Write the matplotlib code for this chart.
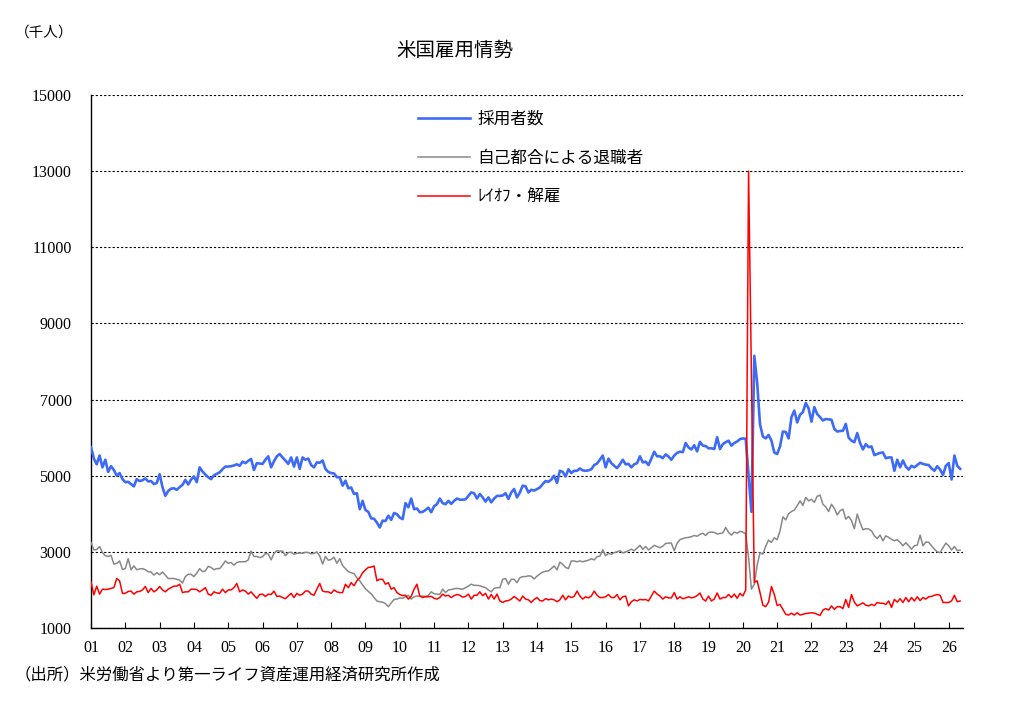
import numpy as np
import matplotlib.pyplot as plt

plt.rcParams['font.family'] = ['Noto Sans CJK JP', 'DejaVu Sans']

# 月次データ（千人） 2001年1月～2026年5月
hires = [
    5750, 5450, 5300, 5530, 5220, 5420, 5100, 5250, 5150, 5000, 5070, 4910,  # 01
    4830, 4840, 4780, 4720, 4910, 4860, 4880, 4930, 4850, 4860, 4780, 4810,  # 02
    5040, 4700, 4470, 4600, 4660, 4670, 4630, 4700, 4760, 4890, 4770, 4900,  # 03
    4980, 4830, 5220, 5110, 5030, 4960, 4910, 5010, 5050, 5090, 5170, 5240,  # 04
    5240, 5250, 5270, 5300, 5260, 5370, 5330, 5390, 5440, 5150, 5330, 5320,  # 05
    5310, 5420, 5510, 5220, 5380, 5510, 5570, 5480, 5400, 5310, 5480, 5240,  # 06
    5480, 5180, 5480, 5420, 5450, 5280, 5220, 5350, 5340, 5400, 5180, 5100,  # 07
    5070, 5060, 4960, 4960, 4740, 4870, 4670, 4690, 4520, 4540, 4120, 4340,  # 08
    4100, 4050, 3880, 3870, 3770, 3640, 3820, 3810, 3950, 3840, 4020, 3990,  # 09
    3900, 3860, 4280, 4170, 4400, 4120, 4140, 4040, 4050, 4100, 4160, 4040,  # 10
    4200, 4250, 4400, 4280, 4250, 4340, 4260, 4340, 4400, 4370, 4370, 4380,  # 11
    4470, 4560, 4540, 4400, 4520, 4430, 4320, 4430, 4300, 4400, 4470, 4470,  # 12
    4480, 4540, 4390, 4560, 4650, 4430, 4560, 4740, 4720, 4560, 4630, 4610,  # 13
    4650, 4690, 4780, 4860, 4840, 4900, 5000, 4810, 5130, 5100, 4980, 5170,  # 14
    5070, 5130, 5130, 5190, 5140, 5130, 5140, 5170, 5280, 5320, 5420, 5530,  # 15
    5220, 5450, 5330, 5260, 5200, 5300, 5420, 5300, 5310, 5220, 5300, 5330,  # 16
    5510, 5350, 5370, 5280, 5450, 5630, 5510, 5510, 5460, 5560, 5500, 5420,  # 17
    5530, 5600, 5630, 5620, 5860, 5740, 5690, 5800, 5640, 5890, 5790, 5780,  # 18
    5720, 5720, 5700, 6010, 5700, 5830, 5880, 5920, 5790, 5860, 5900, 5960,  # 19
    5980, 5970, 5000, 4050, 8150, 7450, 6350, 6030, 5980, 6070, 5920, 5610,  # 20
    5570, 5770, 6160, 6150, 5980, 6540, 6710, 6400, 6600, 6670, 6910, 6770,  # 21
    6420, 6800, 6620, 6540, 6450, 6490, 6480, 6470, 6230, 6160, 6175, 6180,  # 22
    6360, 6000, 5920, 5880, 6120, 5860, 5690, 5830, 5750, 5770, 5540, 5570,  # 23
    5600, 5610, 5460, 5480, 5480, 5130, 5420, 5220, 5400, 5240, 5160, 5260,  # 24
    5220, 5280, 5340, 5310, 5290, 5280, 5190, 5130, 5250, 5160, 5020, 5260,  # 25
    5330, 4900, 5530, 5260, 5180,                                            # 26
]

quits = [
    3250, 3050, 3060, 3140, 2980, 2900, 2880, 2910, 2680, 2700, 2760, 2540,  # 01
    2560, 2820, 2530, 2630, 2530, 2550, 2560, 2530, 2480, 2470, 2390, 2450,  # 02
    2400, 2470, 2390, 2300, 2300, 2300, 2280, 2260, 2180, 2350, 2410, 2410,  # 03
    2350, 2440, 2560, 2480, 2500, 2620, 2590, 2530, 2560, 2560, 2650, 2760,  # 04
    2700, 2720, 2650, 2720, 2740, 2740, 2740, 2790, 3020, 2880, 2880, 2850,  # 05
    2870, 2960, 2940, 2790, 2960, 3030, 3020, 3020, 2900, 2980, 2990, 2940,  # 06
    2960, 2970, 2960, 2990, 2980, 2950, 2960, 3000, 2890, 2680, 2880, 2780,  # 07
    2800, 2860, 2700, 2820, 2640, 2560, 2480, 2450, 2430, 2320, 2240, 2130,  # 08
    2030, 1960, 1900, 1800, 1710, 1690, 1680, 1640, 1560, 1660, 1750, 1760,  # 09
    1790, 1780, 1820, 1860, 1760, 1820, 1840, 1830, 1840, 1830, 1860, 1950,  # 10
    1900, 1890, 1880, 2020, 1930, 2000, 2010, 2030, 2040, 2030, 2020, 2060,  # 11
    2100, 2150, 2120, 2120, 2110, 2080, 2060, 2000, 1950, 2040, 2060, 2060,  # 12
    2280, 2300, 2150, 2280, 2280, 2190, 2320, 2350, 2350, 2370, 2360, 2290,  # 13
    2360, 2420, 2470, 2490, 2500, 2560, 2630, 2530, 2730, 2670, 2590, 2560,  # 14
    2760, 2760, 2740, 2760, 2740, 2760, 2780, 2820, 2790, 2870, 2890, 3050,  # 15
    2900, 2960, 2940, 2980, 3000, 3030, 2970, 3000, 3030, 3070, 3030, 3100,  # 16
    3170, 3070, 3140, 3050, 3110, 3170, 3140, 3110, 3150, 3220, 3230, 3230,  # 17
    3030, 3230, 3320, 3350, 3370, 3380, 3400, 3430, 3410, 3460, 3490, 3430,  # 18
    3510, 3520, 3510, 3470, 3480, 3500, 3640, 3510, 3440, 3520, 3490, 3540,  # 19
    3520, 3470, 2850, 2020, 2150, 2650, 2980, 2940, 3150, 3310, 3250, 3370,  # 20
    3320, 3550, 3920, 3840, 4000, 4060, 4100, 4210, 4340, 4220, 4430, 4340,  # 21
    4380, 4300, 4460, 4490, 4250, 4180, 4060, 4250, 4140, 3970, 4080, 4120,  # 22
    3860, 3930, 3820, 3610, 3990, 3770, 3580, 3610, 3600, 3550, 3420, 3350,  # 23
    3440, 3290, 3420, 3380, 3330, 3290, 3320, 3250, 3160, 3240, 3160, 3070,  # 24
    3160, 3175, 3440, 3160, 3260, 3250, 3160, 3070, 3000, 2980, 3110, 3230,  # 25
    3160, 3050, 3140, 3030, 3050,                                            # 26
]

layoffs = [
    2210, 1870, 2100, 1890, 2020, 2010, 2020, 2040, 2060, 2300, 2240, 1910,  # 01
    1910, 1960, 1970, 1890, 1950, 1960, 2000, 2090, 1930, 2040, 1950, 2000,  # 02
    2090, 2000, 1950, 2020, 2060, 2100, 2100, 2150, 1930, 1950, 1950, 2020,  # 03
    2020, 2010, 1950, 2000, 2060, 1890, 1860, 1950, 1920, 1910, 2020, 1930,  # 04
    2000, 2000, 2060, 2170, 1950, 2000, 1970, 1890, 1950, 1860, 1780, 1880,  # 05
    1890, 1830, 1890, 1880, 1970, 1830, 1840, 1800, 1770, 1840, 1910, 1800,  # 06
    1910, 1860, 1890, 1970, 1970, 1890, 1860, 2020, 2170, 1970, 1950, 1950,  # 07
    1910, 2000, 1950, 1930, 1930, 2150, 2060, 2190, 2110, 2240, 2320, 2450,  # 08
    2530, 2590, 2600, 2630, 2240, 2280, 2280, 2150, 2190, 2020, 2060, 1930,  # 09
    1880, 1850, 1860, 1760, 1830, 2020, 2150, 1840, 1800, 1820, 1820, 1830,  # 10
    1780, 1760, 1800, 1890, 1840, 1860, 1800, 1850, 1880, 1860, 1810, 1830,  # 11
    1890, 1760, 1860, 1860, 1950, 1850, 1910, 1760, 1880, 1760, 1890, 1710,  # 12
    1670, 1710, 1720, 1760, 1830, 1770, 1710, 1840, 1760, 1740, 1670, 1750,  # 13
    1800, 1720, 1710, 1770, 1740, 1760, 1740, 1690, 1740, 1860, 1740, 1840,  # 14
    1800, 1830, 1970, 1840, 1760, 1820, 1790, 1840, 1970, 1860, 1800, 1800,  # 15
    1820, 1880, 1800, 1800, 1880, 1740, 1820, 1840, 1580, 1690, 1740, 1710,  # 16
    1750, 1740, 1750, 1710, 1840, 1970, 1890, 1840, 1760, 1820, 1790, 1790,  # 17
    1930, 1760, 1820, 1770, 1790, 1820, 1790, 1810, 1850, 1920, 1760, 1710,  # 18
    1840, 1710, 1760, 1920, 1760, 1800, 1800, 1880, 1800, 1890, 1780, 1910,  # 19
    1840, 2000, 13000, 7700, 2200, 2240, 1930, 1600, 1560, 1680, 2090, 1880,  # 20
    1590, 1620, 1490, 1360, 1340, 1390, 1340, 1400, 1340, 1360, 1380, 1390,  # 21
    1400, 1390, 1360, 1330, 1470, 1510, 1470, 1580, 1490, 1560, 1560, 1510,  # 22
    1750, 1540, 1880, 1680, 1580, 1620, 1660, 1600, 1580, 1620, 1590, 1670,  # 23
    1650, 1650, 1620, 1710, 1540, 1750, 1680, 1770, 1670, 1800, 1690, 1800,  # 24
    1710, 1820, 1720, 1800, 1760, 1820, 1830, 1860, 1880, 1860, 1670, 1670,  # 25
    1670, 1710, 1860, 1690, 1710,                                            # 26
]

year_labels = ['%02d' % y for y in range(1, 27)]
y_ticks = list(range(1000, 15001, 2000))

months = np.arange(len(hires))

fig = plt.figure(figsize=(10.14, 7.04), dpi=100)
ax = fig.add_axes([91/1014, 76/704, 872/1014, 533/704])

ax.plot(months, hires, color='#3d6bf5', lw=1.9, label='採用者数', zorder=3)
ax.plot(months, quits, color='#888888', lw=1.1, label='自己都合による退職者', zorder=3)
ax.plot(months, layoffs, color='#ff0000', lw=1.1, label='ﾚｲｵﾌ・解雇', zorder=4)

ax.set_xlim(0, 305)
ax.set_ylim(1000, 15000)
ax.set_yticks(y_ticks)
ax.set_xticks(range(0, 12 * len(year_labels), 12))
ax.set_xticklabels(year_labels)
ax.yaxis.grid(True, linestyle=(0, (2.0, 1.8)), color='black', lw=0.8)
ax.set_axisbelow(True)

for s in ['top', 'right']:
    ax.spines[s].set_visible(False)
for s in ['left', 'bottom']:
    ax.spines[s].set_linewidth(1.0)

ax.tick_params(axis='x', direction='in', length=4, width=0.8, pad=9)
ax.tick_params(axis='y', length=0, pad=14)
for lab in ax.get_xticklabels() + ax.get_yticklabels():
    lab.set_fontfamily('Liberation Serif')
    lab.set_fontsize(11.5)

leg = fig.legend(loc='upper left', bbox_to_anchor=(418/1014, 1 - 111/704),
                 frameon=False, fontsize=12, handlelength=3.1,
                 handletextpad=0.45, labelspacing=1.3, borderpad=0,
                 borderaxespad=0)

fig.text(455/1014, 1 - 50/704, '米国雇用情勢', ha='center', va='center', fontsize=14)
fig.text(15/1014, 1 - 33/704, '（千人）', ha='left', va='center', fontsize=10.5)
fig.text(15/1014, 1 - 675/704, '（出所）米労働省より第一ライフ資産運用経済研究所作成',
         ha='left', va='center', fontsize=11.8)

fig.savefig('out.png', dpi=100)
